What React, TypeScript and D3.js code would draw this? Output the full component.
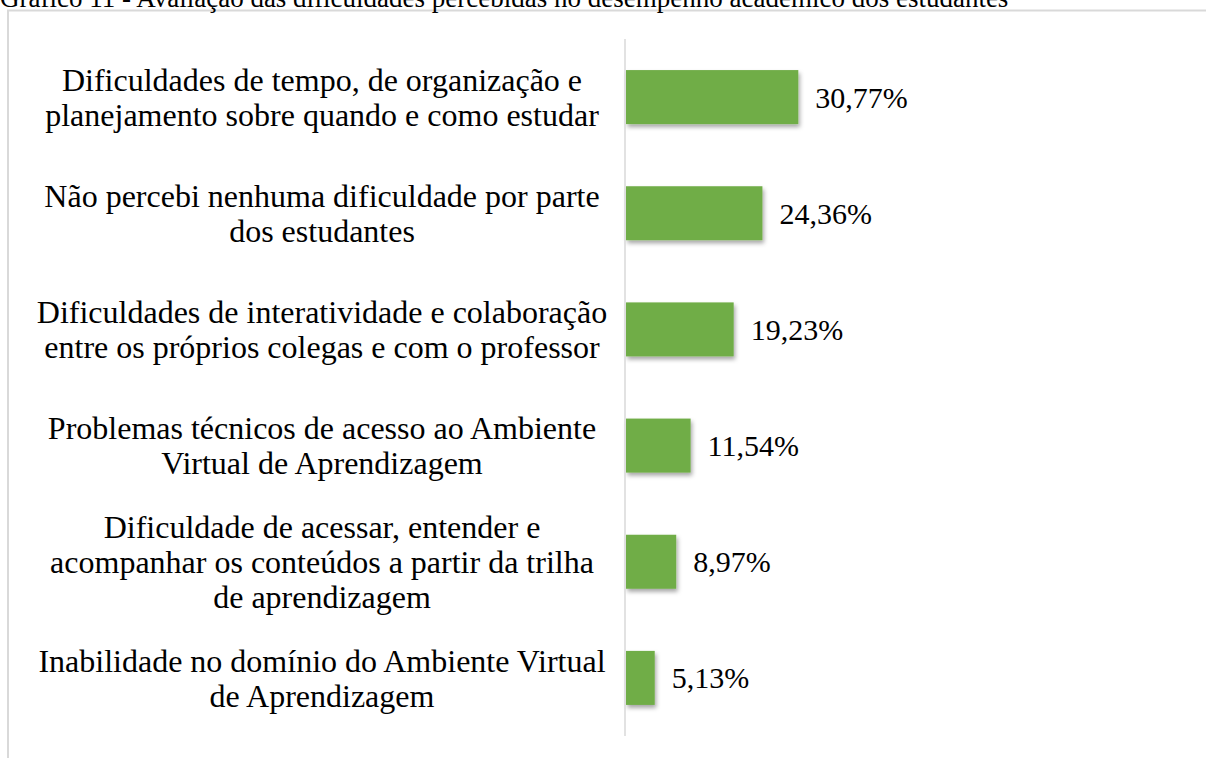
import React from 'react';
import * as d3 from 'd3';

// categories (line breaks kept as in the original chart)
const categories = [
  'Dificuldades de tempo, de organização e\nplanejamento sobre quando e como estudar',
  'Não percebi nenhuma dificuldade por parte\ndos estudantes',
  'Dificuldades de interatividade e colaboração\nentre os próprios colegas e com o professor',
  'Problemas técnicos de acesso ao Ambiente\nVirtual de Aprendizagem',
  'Dificuldade de acessar, entender e\nacompanhar os conteúdos a partir da trilha\nde aprendizagem',
  'Inabilidade no domínio do Ambiente Virtual\nde Aprendizagem',
];
const values = [30.77, 24.36, 19.23, 11.54, 8.97, 5.13];

const title = 'Gráfico 11 - Avaliação das dificuldades percebidas no desempenho acadêmico dos estudantes';

const W = 1206;
const H = 758;
const font = '"Liberation Serif", "Times New Roman", serif';

const ptBR = d3.formatLocale({ decimal: ',', thousands: '.', grouping: [3], currency: ['R$', ''] });
const fmt = (v: number) => ptBR.format('.2f')(v) + '%';

export default function App() {
  const x = d3.scaleLinear().domain([0, 35]).range([626, 626 + 35 * 5.6]);
  const y = d3.scaleBand<string>()
    .domain(categories)
    .range([39, 736])
    .paddingInner(0.535)
    .paddingOuter(0.2675);

  const lineH = 35;

  return (
    <svg width={W} height={H} style={{ position: 'absolute', left: 0, top: 0, background: '#fff' }}>
      <defs>
        <filter id="shadow" x="-20%" y="-20%" width="150%" height="160%">
          <feDropShadow dx="1.5" dy="3" stdDeviation="2" floodColor="#000" floodOpacity="0.35" />
        </filter>
      </defs>

      {/* frame */}
      <rect x={8} y={10.5} width={W} height={H} fill="none" stroke="#d9d9d9" strokeWidth={2} />

      {/* title, clipped at the top */}
      <text x={0} y={7} fontFamily={font} fontSize={27} fill="#000">{title}</text>

      {/* bars */}
      {categories.map((c, i) => (
        <rect key={c} x={x(0)} y={y(c)!} width={x(values[i]) - x(0)} height={y.bandwidth()}
          fill="#70ad47" filter="url(#shadow)" />
      ))}

      {/* category axis line */}
      <line x1={625} x2={625} y1={39} y2={736} stroke="#d9d9d9" strokeWidth={1.5} />

      {/* value labels */}
      {categories.map((c, i) => (
        <text key={'v' + i} x={x(values[i]) + 17} y={y(c)! + y.bandwidth() / 2} dy="0.35em"
          fontFamily={font} fontSize={30} fill="#000">{fmt(values[i])}</text>
      ))}

      {/* category labels */}
      {categories.map((c) => {
        const lines = c.split('\n');
        const cy = y(c)! + y.bandwidth() / 2;
        return (
          <text key={'c' + c} textAnchor="middle" fontFamily={font} fontSize={32} fill="#000">
            {lines.map((l, j) => (
              <tspan key={j} x={322} y={cy + (j - (lines.length - 1) / 2) * lineH} dy="0.35em">{l}</tspan>
            ))}
          </text>
        );
      })}
    </svg>
  );
}
